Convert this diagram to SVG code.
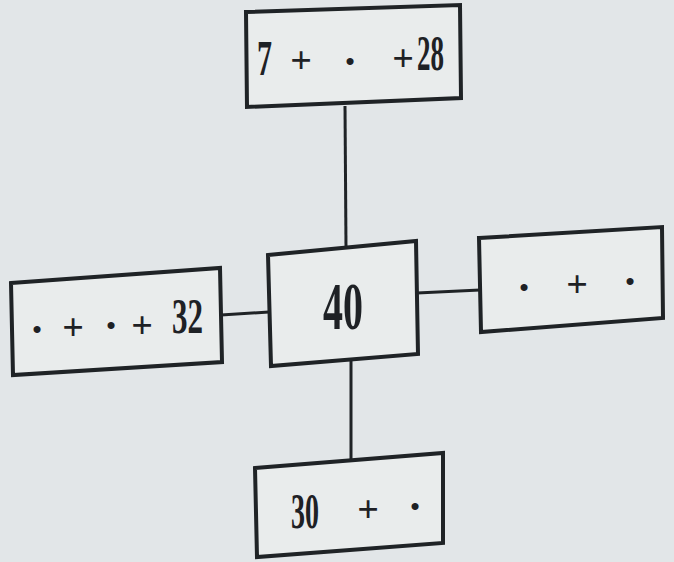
<svg xmlns="http://www.w3.org/2000/svg" width="674" height="562" viewBox="0 0 674 562">
<style>
.box{fill:#e9ecec;stroke:#1f2326;stroke-width:4;stroke-linejoin:miter}
.ln{stroke:#1f2326;stroke-width:3;fill:none}
.t{font-family:"Liberation Serif","DejaVu Serif",serif;font-weight:bold;fill:#1e2125}
.n{font-size:50px}
.p{font-size:38px;text-anchor:middle}
.d{font-size:26px;text-anchor:middle}
</style>
<rect width="674" height="562" fill="#e2e6e8"/>
<g id="connectors">
<line class="ln" x1="345" y1="106" x2="346" y2="248"/>
<line class="ln" x1="351" y1="360" x2="351" y2="461"/>
<line class="ln" x1="221" y1="315" x2="269" y2="312"/>
<line class="ln" x1="417" y1="293" x2="480" y2="290"/>
</g>
<g id="top">
<polygon class="box" points="246,12 460,5 461,98 247,107"/>
<text class="t n" x="257" y="75" textLength="15" lengthAdjust="spacingAndGlyphs">7</text>
<text class="t p" x="301" y="73">+</text>
<text class="t d" x="350" y="70">•</text>
<text class="t p" x="403" y="71">+</text>
<text class="t n" x="417" y="70" textLength="27" lengthAdjust="spacingAndGlyphs">28</text>
</g>
<g id="center">
<polygon class="box" points="268,255 416,241 418,354 271,366"/>
<text class="t" x="323" y="329" font-size="68" textLength="40" lengthAdjust="spacingAndGlyphs">40</text>
</g>
<g id="left">
<polygon class="box" points="11,283 220,268 222,362 13,375"/>
<text class="t d" x="37" y="338">•</text>
<text class="t p" x="73" y="340">+</text>
<text class="t d" x="111" y="334">•</text>
<text class="t p" x="142" y="338">+</text>
<text class="t n" x="172" y="333" textLength="31" lengthAdjust="spacingAndGlyphs">32</text>
</g>
<g id="right">
<polygon class="box" points="479,238 662,227 663,318 481,332"/>
<text class="t d" x="524" y="296">•</text>
<text class="t p" x="577" y="297">+</text>
<text class="t d" x="630" y="290">•</text>
</g>
<g id="bottom">
<polygon class="box" points="255,468 443,453 443,543 257,557"/>
<text class="t n" x="291" y="528" textLength="28" lengthAdjust="spacingAndGlyphs">30</text>
<text class="t p" x="368" y="522">+</text>
<text class="t d" x="415" y="515">•</text>
</g>
</svg>
